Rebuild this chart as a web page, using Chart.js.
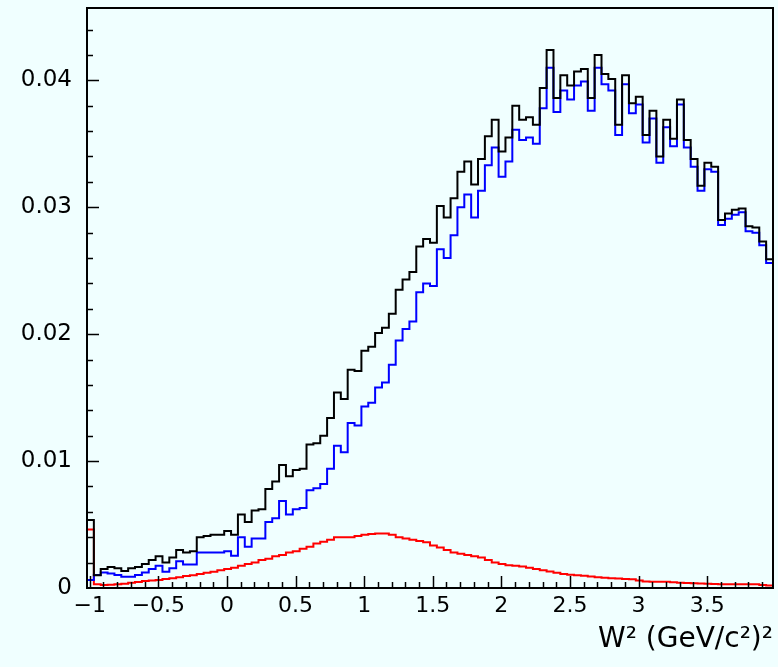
<!DOCTYPE html>
<html><head><meta charset="utf-8">
<script src="https://cdn.jsdelivr.net/npm/chart.js@4.4.1/dist/chart.umd.min.js"></script>
<style>html,body{margin:0;padding:0;background:#f0ffff;}canvas{display:block}</style>
</head><body>
<canvas id="c" width="778" height="667"></canvas>
<script>
// Histogram binning (100 bins of 0.05)
const X_MIN = -1.02, X_MAX = 3.98, BIN_WIDTH = 0.05;
const Y_MIN = 0, Y_MAX = 0.0457;
const xTickValues = [-1, -0.5, 0, 0.5, 1, 1.5, 2, 2.5, 3, 3.5];
const xTickLabels = ['\u22121', '\u22120.5', '0', '0.5', '1', '1.5', '2', '2.5', '3', '3.5'];
const yTickValues = [0, 0.01, 0.02, 0.03, 0.04];
const yTickLabels = ['0', '0.01', '0.02', '0.03', '0.04'];
const xTitle = 'W\u00B2 (GeV/c\u00B2)\u00B2';

// black: total
const totalSeries = [
0.00535,0.0010,0.0015,0.00165,0.00155,0.00134,0.00155,0.00165,0.0019,0.0022,
0.0025,0.0020,0.0024,0.0030,0.0028,0.0029,0.0040,0.0041,0.0042,0.0042,
0.0045,0.0042,0.0058,0.0052,0.0061,0.0062,0.0078,0.0084,0.0097,0.0088,
0.0093,0.0094,0.0113,0.0114,0.0120,0.0134,0.0154,0.0149,0.0172,0.0171,
0.0187,0.0190,0.0201,0.0205,0.0216,0.0235,0.0243,0.0249,0.0269,0.0275,
0.0272,0.0301,0.0292,0.0307,0.0328,0.0336,0.0318,0.0338,0.0356,0.0369,
0.0344,0.0355,0.0380,0.0369,0.0371,0.0365,0.0394,0.0424,0.0386,0.0404,
0.0396,0.0407,0.0409,0.0386,0.0420,0.0405,0.0401,0.0365,0.0404,0.0382,
0.0387,0.0357,0.0376,0.0340,0.0369,0.0354,0.0385,0.0353,0.0338,0.0317,
0.0335,0.0332,0.0290,0.0295,0.0298,0.0299,0.0285,0.0284,0.0273,0.0259];

// blue
const blueSeries = [
0.00063,0.00102,0.00123,0.00115,0.00102,0.00089,0.00089,0.00102,0.00123,0.0015,
0.00176,0.00129,0.00155,0.0021,0.00186,0.00186,0.0028,0.0028,0.0028,0.0028,
0.0029,0.00255,0.0040,0.00325,0.0039,0.0039,0.0052,0.0055,0.00685,0.0058,
0.0062,0.0063,0.0077,0.00785,0.0082,0.0094,0.0112,0.0107,0.0130,0.0128,
0.0143,0.0146,0.0158,0.0162,0.0176,0.0195,0.0204,0.0210,0.0233,0.0240,
0.0238,0.0267,0.0260,0.0278,0.0300,0.0310,0.0292,0.0313,0.0333,0.0347,
0.0324,0.0336,0.0361,0.0353,0.0355,0.0350,0.0378,0.0410,0.0375,0.0392,
0.0385,0.0396,0.0399,0.0376,0.0410,0.0397,0.0392,0.0357,0.0397,0.0374,
0.0381,0.0351,0.0370,0.0335,0.0363,0.0348,0.0381,0.0347,0.0332,0.0313,
0.0330,0.0328,0.0286,0.0291,0.0294,0.0296,0.0281,0.0280,0.0270,0.0256];

// red
const redSeries = [
0.0046,0.0003,0.00024,0.00026,0.0003,0.00034,0.00042,0.00047,0.00055,0.0006,
0.00063,0.0007,0.00076,0.00085,0.00094,0.0010,0.0011,0.0012,0.00128,0.0014,
0.0015,0.0016,0.00176,0.0019,0.0020,0.0022,0.0023,0.0025,0.0026,0.0028,
0.0029,0.0031,0.00325,0.0035,0.00365,0.0038,0.0040,0.0040,0.0040,0.0041,
0.0042,0.00425,0.0043,0.0043,0.0042,0.0040,0.0039,0.0038,0.0037,0.0036,
0.00335,0.0032,0.0030,0.0028,0.0027,0.0026,0.0025,0.0024,0.0022,0.0020,
0.0019,0.0018,0.00176,0.0017,0.0016,0.0015,0.0014,0.0013,0.0012,0.0011,
0.00105,0.0010,0.00097,0.0009,0.00085,0.0008,0.00077,0.00075,0.0007,0.00068,
0.0006,0.00052,0.0005,0.0005,0.0005,0.00046,0.00042,0.0004,0.00038,0.00036,
0.00034,0.00032,0.0003,0.0003,0.00029,0.0003,0.00029,0.00029,0.00024,0.0002];

function histPoints(values) {
  const pts = values.map((v, i) => ({x: X_MIN + i * BIN_WIDTH, y: v}));
  pts.push({x: X_MAX, y: values[values.length - 1]});
  return pts;
}

const FONT = 'DejaVu Sans';

const framePlugin = {
  id: 'frame',
  beforeDraw(chart) {
    const ctx = chart.ctx;
    ctx.save();
    ctx.fillStyle = '#f0ffff';
    ctx.fillRect(0, 0, chart.width, chart.height);
    ctx.restore();
  },
  afterDraw(chart) {
    const ctx = chart.ctx, a = chart.chartArea;
    const xs = chart.scales.x, ys = chart.scales.y;
    ctx.save();
    ctx.strokeStyle = '#000';
    ctx.lineWidth = 2;
    ctx.strokeRect(a.left, a.top, a.right - a.left, a.bottom - a.top);
    ctx.lineWidth = 1.5;
    ctx.beginPath();
    // x ticks: minor every 0.1, major every 0.5
    for (let k = -10; k <= 39; k++) {
      const px = Math.round(xs.getPixelForValue(k / 10)) + 0.5;
      const len = (k % 5 === 0) ? 12 : 6;
      ctx.moveTo(px, a.bottom);
      ctx.lineTo(px, a.bottom - len);
    }
    // y ticks: minor every 0.002, major every 0.01
    for (let k = 1; k <= 22; k++) {
      const py = Math.round(ys.getPixelForValue(k * 0.002)) + 0.5;
      const len = (k % 5 === 0) ? 12 : 6;
      ctx.moveTo(a.left, py);
      ctx.lineTo(a.left + len, py);
    }
    ctx.stroke();
    // axis title
    ctx.fillStyle = '#000';
    ctx.font = '28px "' + FONT + '"';
    ctx.textAlign = 'right';
    ctx.textBaseline = 'alphabetic';
    ctx.fillText(xTitle, a.right, 647);
    ctx.restore();
  }
};

const common = {fill: false, pointRadius: 0, borderWidth: 2, stepped: 'before', tension: 0};

function zeroPad(s) { s.paddingTop = 0; s.paddingBottom = 0; s.paddingLeft = 0; s.paddingRight = 0; }

new Chart(document.getElementById('c'), {
  type: 'line',
  data: {
    datasets: [
      Object.assign({label: 'total', data: histPoints(totalSeries), borderColor: '#000000'}, common),
      Object.assign({label: 'blue', data: histPoints(blueSeries), borderColor: '#0000ff'}, common),
      Object.assign({label: 'red', data: histPoints(redSeries), borderColor: '#ff0000'}, common)
    ]
  },
  options: {
    responsive: false,
    animation: false,
    events: [],
    layout: {padding: {top: 8, right: 5, left: 0, bottom: 0}},
    plugins: {legend: {display: false}, tooltip: {enabled: false}, title: {display: false}},
    scales: {
      x: {
        type: 'linear', min: X_MIN, max: X_MAX,
        grid: {display: false, drawTicks: false},
        border: {display: false},
        afterBuildTicks: s => { s.ticks = xTickValues.map(v => ({value: v})); },
        afterFit: s => { s.height = 79; zeroPad(s); },
        ticks: {
          autoSkip: false, maxRotation: 0, padding: 5, color: '#000',
          font: {family: FONT, size: 22},
          callback: (v, i) => xTickLabels[i]
        }
      },
      y: {
        type: 'linear', min: Y_MIN, max: Y_MAX,
        grid: {display: false, drawTicks: false},
        border: {display: false},
        afterBuildTicks: s => { s.ticks = yTickValues.map(v => ({value: v})); },
        afterFit: s => { s.width = 87; zeroPad(s); },
        ticks: {
          autoSkip: false, padding: 15, color: '#000',
          font: {family: FONT, size: 23},
          callback: (v, i) => yTickLabels[i]
        }
      }
    }
  },
  plugins: [framePlugin]
});
</script>
</body></html>
